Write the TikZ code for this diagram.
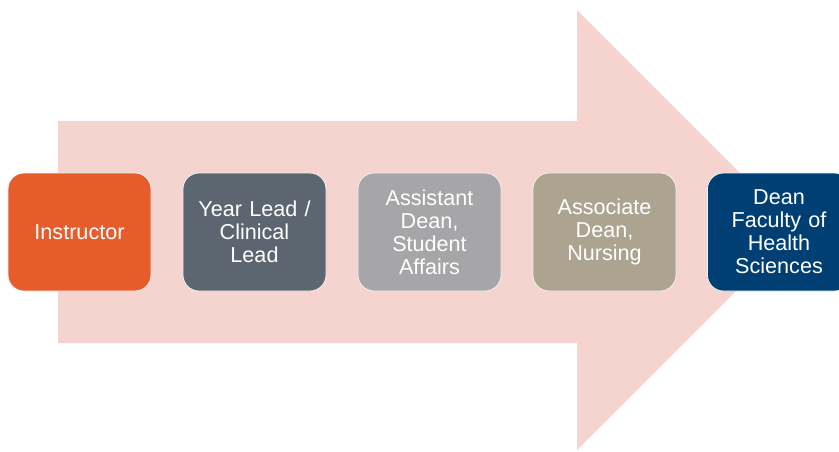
\documentclass[tikz,border=0pt]{standalone}
\usepackage{fontspec}
\setmainfont{Liberation Sans}
\definecolor{arrowpink}{HTML}{F5D3CE}
\definecolor{cOrange}{HTML}{E65C2A}
\definecolor{cSlate}{HTML}{5B6670}
\definecolor{cGray}{HTML}{A6A6A8}
\definecolor{cTaupe}{HTML}{ACA491}
\definecolor{cNavy}{HTML}{003F73}
\tikzset{
  stepbox/.style={rounded corners=16pt, draw=white!90!gray, line width=0.8pt,
    minimum width=143pt, minimum height=118pt, inner sep=2pt,
    text width=139pt, align=center, text=white,
    font=\fontsize{21.6pt}{23pt}\selectfont},
}
\begin{document}
\begin{tikzpicture}[x=1pt,y=-1pt]
\useasboundingbox (0,0) rectangle (839,451);
\begin{scope}
\clip (0,0) rectangle (839,451);
\fill[arrowpink] (58,121) -- (577,121) -- (577,10) -- (797,230) -- (577,450) -- (577,343) -- (58,343) -- cycle;
\node[stepbox, fill=cOrange] (n1) at (79.5,232) {Instructor};
\node[stepbox, fill=cSlate] (n2) at (254.5,232) {Year Lead /\\Clinical\\Lead};
\node[stepbox, fill=cGray] (n3) at (429.5,232) {Assistant\\Dean,\\Student\\Affairs};
\node[stepbox, fill=cTaupe] (n4) at (604.5,232) {Associate\\Dean,\\Nursing};
\node[stepbox, fill=cNavy] (n5) at (779,232) {Dean\\Faculty of\\Health\\Sciences};
\end{scope}
\end{tikzpicture}
\end{document}
